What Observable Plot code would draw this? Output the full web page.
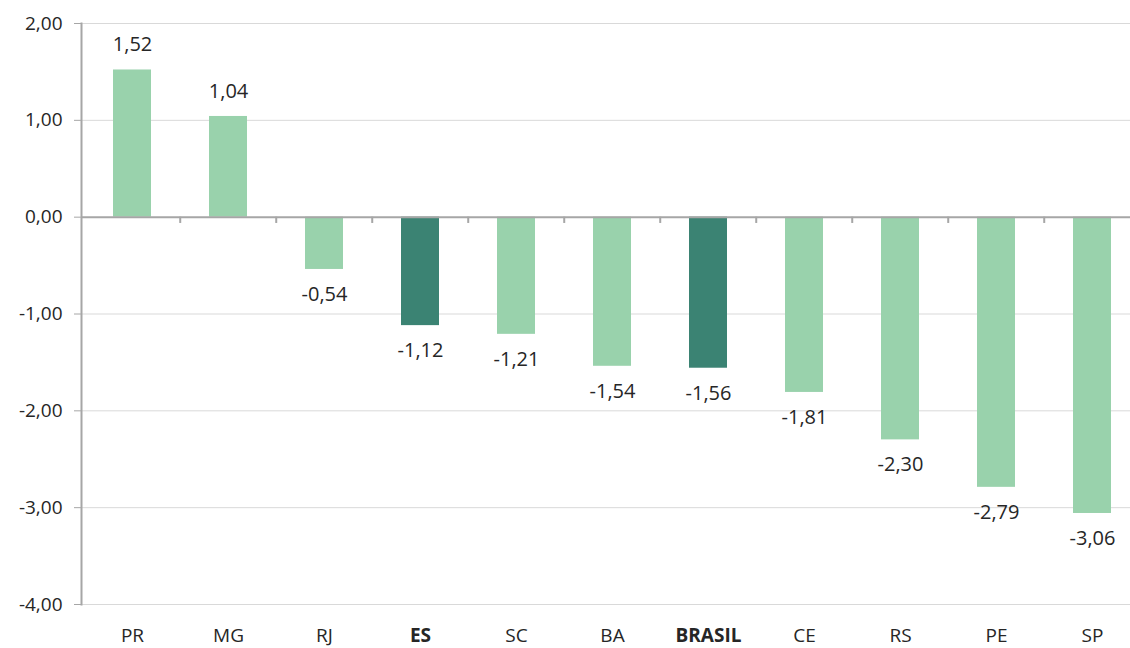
<!DOCTYPE html>
<html><head><meta charset="utf-8">
<script src="https://cdn.jsdelivr.net/npm/d3@7"></script>
<script src="https://cdn.jsdelivr.net/npm/@observablehq/plot@0.6"></script>
<style>html,body{margin:0;background:#fff;overflow:hidden;} svg{display:block;}</style>
</head><body><div id="chart"></div>
<script>
const categories = ["PR","MG","RJ","ES","SC","BA","BRASIL","CE","RS","PE","SP"];
const values = [1.52,1.04,-0.54,-1.12,-1.21,-1.54,-1.56,-1.81,-2.30,-2.79,-3.06];
const highlighted = ["ES","BRASIL"];
const yTicks = [-4,-3,-2,-1,0,1,2];

const data = categories.map((c,i)=>({cat:c, value:values[i], hi: highlighted.includes(c)}));
const loc = d3.formatLocale({decimal:",", thousands:".", grouping:[3], currency:["R$",""], minus:"-"});
const fmt = loc.format(".2f");
const W = 1130, ML = 81, MR = -13;
const step = (W-ML-MR)/categories.length;
const font = "Open Sans, sans-serif";

const chart = Plot.plot({
  width: W, height: 648,
  marginLeft: ML, marginRight: MR, marginTop: 23, marginBottom: 44,
  style: {fontFamily: font, fontSize: "19px", color: "#262626", background: "#fff", overflow: "hidden"},
  x: {domain: categories, paddingInner: 0.6, paddingOuter: 0.3, axis: null},
  y: {domain: [-4, 2], ticks: yTicks, tickFormat: fmt},
  marks: [
    Plot.ruleY(yTicks.filter(d=>d!==0), {stroke: "#d9d9d9", strokeWidth: 1}),
    Plot.barY(data, {x: "cat", y: "value", fill: d => d.hi ? "#3b8373" : "#99d2ac"}),
    Plot.ruleY([0], {stroke: "#a6a6a6", strokeWidth: 2}),
    Plot.ruleX(categories.slice(1), {x: d=>d, y1: 0, y2: -0.065, dx: -step/2, stroke: "#a6a6a6", strokeWidth: 2}),
    Plot.frame({anchor: "left", stroke: "#a6a6a6", strokeWidth: 2}),
    Plot.axisY({ticks: yTicks, tickFormat: fmt, tickSize: 7, tickPadding: 12, stroke: "#a6a6a6", fontSize: 19, fill: "#262626", label: null}),
    Plot.text(data.filter(d=>d.value>=0), {x: "cat", y: "value", text: d => fmt(d.value), dy: -25, fontSize: 20, fill: "#262626"}),
    Plot.text(data.filter(d=>d.value<0), {x: "cat", y: "value", text: d => fmt(d.value), dy: 25, fontSize: 20, fill: "#262626"}),
    Plot.text(data.filter(d=>!d.hi), {x: "cat", text: "cat", frameAnchor: "bottom", dy: 37, fontSize: 19, fill: "#262626"}),
    Plot.text(data.filter(d=>d.hi), {x: "cat", text: "cat", frameAnchor: "bottom", dy: 37, fontSize: 19, fill: "#262626", fontWeight: "bold"})
  ]
});
document.getElementById("chart").appendChild(chart);
</script></body></html>
